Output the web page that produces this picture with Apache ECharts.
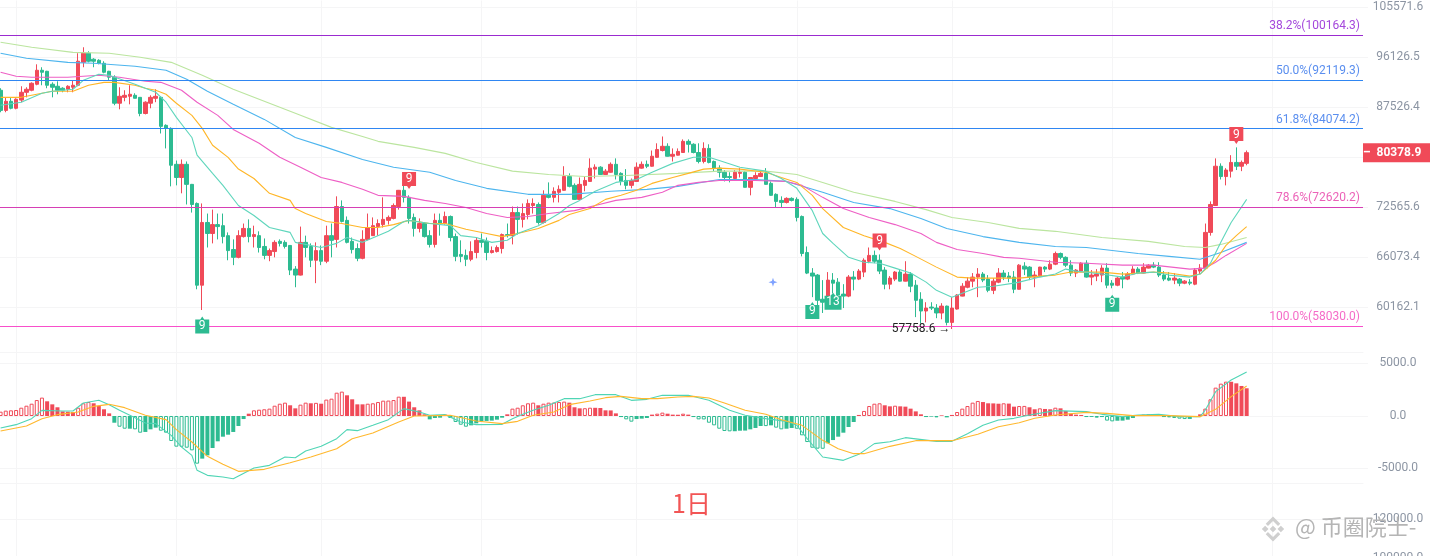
<!DOCTYPE html>
<html><head><meta charset="utf-8"><style>html,body{margin:0;padding:0;background:#fff}#c{width:1430px;height:556px}</style>
<script src="https://cdn.jsdelivr.net/npm/echarts@6/dist/echarts.min.js"></script></head><body><div id="c"></div><script>
const opens=[90350,87000,88500,87350,88700,90000,90350,91370,93800,93620,
91370,91030,90690,90520,90860,91200,95200,96840,95760,95570,
95030,93620,92580,88180,89160,89330,89500,89160,86500,88180,
89000,89160,84600,84120,78640,76720,78640,75740,73080,62700,
70520,69080,70240,70100,68800,67030,66060,68680,69740,68680,
68800,67420,66300,66780,68070,67940,67550,64620,63900,67940,
67420,65700,66900,65580,68800,68320,72660,70800,68070,67160,
65940,68320,68800,69980,70240,70800,71060,72660,74900,73920,
71190,69740,70380,68800,67680,70800,70380,71320,68680,66420,
66300,65820,66660,68200,68070,66660,66780,67160,68940,68800,
71840,70930,71580,72800,72940,70520,74200,73920,74620,74900,
76860,75600,73640,75600,76160,77940,78220,77160,77480,78640,
77320,76300,75600,76160,78080,78640,78360,79680,80700,81340,
79840,80000,80400,82100,81650,80400,79060,81020,79060,78080,
77480,76860,76580,77320,77480,75320,76580,76860,77320,75880,
74340,73500,73220,73780,73640,71320,66660,64140,63900,61070,
60730,63300,63060,61660,61430,63660,63420,64260,65580,66300,
65700,64500,62820,63420,64260,63180,64020,62700,61070,59740,
60180,60070,59520,60290,58480,59960,61430,62460,63180,63660,
64020,63420,62100,63060,64140,63780,63660,62220,64980,64860,
63660,63780,64860,64620,65220,66540,66060,65100,64140,64380,
65340,63660,63780,63900,64740,62940,62700,63660,63420,64020,
64620,64140,64740,65100,64860,63900,63540,63300,63420,62940,
63060,62820,64380,64740,69220,72800,78360,76860,77640,78920,
78360,78780];
const closes=[87000,88500,87350,88840,90010,90520,91540,93800,93450,91200,
90860,90350,90350,91030,91200,95400,96840,95400,95400,95030,
93450,92580,88180,89330,89500,89670,89000,86500,88350,89160,
89330,84440,84120,78500,76720,78640,75740,72940,62700,70520,
69080,70240,69980,68680,66900,66060,68800,69740,68680,68940,
67290,66300,66900,67940,67810,67420,64500,63900,67940,67290,
65700,66900,65580,68800,68200,72660,70660,67940,67030,65940,
68320,69860,70100,70380,70930,71190,72800,74900,73920,71060,
69740,70380,68680,67680,70800,70380,71320,68560,66180,66180,
65820,66780,68200,67940,66660,66900,67290,68940,68800,71840,
70930,71710,73080,73080,70520,74200,73920,74760,75040,76860,
75460,73640,75740,76300,78080,78220,77160,77640,78640,77160,
76160,75600,76300,78220,78640,78360,79840,80860,81340,79840,
80130,80560,82100,81650,80400,79060,81020,78920,78080,77480,
76720,76720,77480,77480,75320,76720,77000,77320,75740,74200,
73360,73220,73780,73500,71190,66540,64140,63780,60950,60730,
63300,62940,61550,61430,63660,63420,64380,65700,66300,65580,
64380,62820,63540,64260,63180,64020,62580,60950,59740,60070,
60070,59520,60290,58480,60070,61550,62580,63180,63660,64020,
63300,62100,63180,64140,63660,63540,62220,65100,64620,63660,
63900,64860,64620,65220,66540,66060,65100,64140,64500,65340,
63660,63900,64020,64740,62700,62700,63540,63420,64020,64620,
64140,64860,65100,64860,63900,63420,63300,63540,62940,63180,
62940,64500,64740,69220,72940,78360,76860,77800,78920,78360,
78920,80379];
const lows=[86700,86700,87180,87180,88350,89160,90180,91200,91200,90690,
89160,89670,90010,90010,90010,91030,94330,95200,94330,94850,
93270,92050,87850,87180,88500,88000,89000,86050,86350,87350,
88350,83320,81020,75460,75600,74480,72940,71840,62220,59850,
67290,67810,68320,67810,65700,65100,65940,68560,67940,67290,
66660,65820,65580,66060,67420,67160,63900,62460,63850,66060,
64860,62940,65100,65340,66060,67290,70520,67810,66540,65580,
65820,68200,68800,68800,69860,70240,70930,72240,73220,70380,
68680,69220,68560,67290,67290,68800,70240,68070,65580,65460,
64980,65580,65940,67290,65700,66540,66660,66540,68560,67680,
68940,69860,70930,71710,70240,70380,73780,73220,73220,74850,
75320,73600,73600,74760,76100,76580,77100,77100,77400,76440,
75600,75040,75180,76100,78000,78080,78300,79600,80560,79800,
79060,79950,80350,80400,80270,78780,78780,78780,77640,76720,
76160,76020,76300,76720,75300,74200,76300,76800,75700,74150,
72520,72520,73080,73360,70660,66180,64020,61310,60400,59520,
60180,61770,60400,60070,61310,62100,63300,63660,65340,65340,
64020,62220,62220,63180,63150,63150,61880,59060,58370,58480,
59850,58940,58820,58150,57759,59900,61400,62340,62460,61310,
63060,61880,61660,62940,63300,63060,61770,62200,63900,63300,
62460,63660,64260,64500,65100,65820,64860,63780,63660,64260,
63600,62700,63180,63060,62340,62340,62580,62340,63300,63900,
64020,64100,64700,64740,63660,63180,63180,62820,62580,62820,
62700,62700,64020,64620,68800,72750,76440,75600,76720,77800,
77640,78500];
const highs=[90690,89160,89160,89000,91030,90860,91700,94850,94330,93700,
91700,91880,90860,91200,92050,96840,97930,97200,95940,95760,
95400,93700,92920,90860,90350,91200,89840,89200,88500,89500,
90520,89330,84760,84280,79200,79360,79060,75800,73220,73080,
71710,72240,71710,71710,69220,68320,69500,70380,70930,70100,
69360,68440,67160,68200,68320,68200,67600,64980,69980,68800,
67810,67940,67550,70100,70380,74060,73500,71320,68560,67810,
69500,71710,71190,70930,73920,71450,73080,74950,75600,74200,
71710,71060,70520,69500,71710,71710,71970,71450,69080,68200,
67030,68070,68560,69080,68560,67420,67550,69080,70380,72660,
72660,73080,73640,73780,73220,74900,76020,75320,75600,78360,
77320,75880,76720,76860,79520,78640,78360,77940,78920,79520,
77480,77940,76580,78920,79060,79200,80700,81800,82850,81800,
81020,81020,82400,82400,81800,81800,81950,81650,79200,78500,
77800,77480,77800,78080,77640,76750,77480,77640,78080,76160,
74480,74060,73920,73920,73920,71450,67420,64740,64020,63300,
64260,64140,63540,62820,63900,64380,64620,65940,67290,66900,
66420,64860,63780,64380,64500,65580,64260,63300,61880,60730,
60730,60510,60620,60350,61310,61660,62940,63660,64140,64740,
64260,63900,63540,64740,64500,64260,64380,65220,65460,64980,
64380,64900,64980,65700,66780,66660,66180,65700,64620,65460,
65700,64500,64620,65100,65340,63300,63660,64260,64260,64980,
64860,65340,65220,65460,65460,64380,64260,64140,63540,63300,
63420,64740,65220,70380,73360,79520,78780,78080,80000,81180,
79200,80700];
const maTeal=[[0,87850],[4,88350],[8,89840],[10,90180],[14,90520],[16,92050],[19,93100],[21,92920],[26,91370],[30,90010],[32,88350],[34,85870],[37,82700],[38,80000],[41,77320],[43,75600],[46,72800],[49,71450],[52,69860],[56,69220],[57,67940],[62,67290],[65,67810],[67,68560],[70,67940],[75,69360],[78,70660],[79,70800],[83,70380],[87,70100],[89,68800],[92,68560],[95,67940],[98,68200],[100,69080],[104,70100],[108,71710],[110,72800],[112,73500],[115,74760],[119,76020],[123,76440],[126,77480],[130,78780],[134,79680],[137,79680],[139,79200],[143,78220],[148,77640],[151,76580],[154,75180],[157,72100],[159,69080],[161,67810],[164,66060],[167,65460],[170,65340],[173,64740],[176,64140],[179,63060],[181,62100],[184,61310],[186,61770],[189,62460],[192,62580],[196,62940],[197,63060],[201,63660],[204,64020],[206,64620],[208,64380],[213,64020],[217,63660],[220,64140],[223,64260],[226,63900],[230,63660],[232,64020],[234,65340],[236,67940],[238,70520],[241,73640]];
const maOrange=[[0,89160],[4,89160],[8,89840],[10,90180],[14,90180],[17,91200],[20,91700],[22,91700],[26,91200],[28,90690],[30,90350],[32,89670],[34,88180],[37,86200],[39,84120],[41,81500],[44,79680],[46,77940],[49,76580],[52,74480],[56,73500],[57,72380],[59,71710],[63,70660],[66,70380],[70,69860],[73,69860],[76,70240],[79,70800],[83,70380],[86,70380],[90,69620],[94,69080],[97,68680],[100,69080],[104,69740],[108,70800],[110,71580],[114,72380],[117,73640],[120,74200],[123,74900],[126,75880],[130,76720],[133,77320],[136,77940],[139,78080],[143,77940],[148,77480],[151,76720],[154,76020],[157,74200],[159,72380],[163,69860],[167,68800],[171,67940],[174,67160],[177,66180],[181,64860],[185,63660],[188,63540],[197,63540],[201,63780],[204,63900],[207,64260],[213,64260],[217,64020],[223,64260],[226,64140],[230,63780],[232,64020],[235,65700],[237,67550],[239,68800],[241,69980]];
const maPink=[[0,93450],[3,92750],[6,92580],[13,92580],[19,92920],[23,92580],[28,91880],[31,91700],[35,90350],[38,88350],[42,86200],[45,83960],[50,81800],[54,79680],[58,78220],[62,76720],[66,76020],[70,75040],[73,74200],[78,74060],[82,73500],[86,73080],[90,72520],[94,71710],[98,71190],[102,71320],[106,71710],[111,72100],[115,72800],[119,73500],[124,73920],[128,74620],[131,75600],[135,76020],[139,76300],[146,76300],[152,76160],[155,75600],[159,73920],[163,72380],[168,71190],[173,70240],[178,69080],[181,67940],[185,67030],[190,66540],[194,66060],[197,65940],[204,65460],[210,65340],[217,65100],[223,65100],[230,64620],[233,64740],[235,65460],[237,66300],[241,67810]];
const maBlue=[[0,96840],[5,95940],[13,95200],[18,95030],[26,94500],[32,93800],[36,92230],[40,90180],[45,88000],[51,85550],[57,82700],[63,81180],[70,79360],[76,78220],[83,77480],[88,76300],[94,75180],[102,74340],[110,74340],[118,74760],[125,75040],[131,75460],[139,76440],[146,76440],[152,76160],[159,74620],[165,73220],[172,72380],[178,71060],[183,69740],[190,68680],[197,67940],[204,67420],[210,67290],[220,66540],[226,66180],[232,65820],[236,66660],[241,67940]];
const maGreen=[[0,98860],[6,97930],[14,97000],[21,96840],[27,96120],[33,95200],[39,92920],[45,90520],[52,88180],[58,86200],[64,84280],[70,82850],[73,82100],[80,81180],[86,80270],[92,78920],[99,77640],[106,77160],[113,76860],[121,77000],[131,77320],[139,77640],[148,77640],[154,77160],[159,76020],[165,74620],[173,73360],[179,72240],[184,71190],[191,70520],[197,69740],[204,69360],[213,68560],[222,68070],[229,67420],[233,67290],[236,67680],[241,68560]];
const macdHist=[410,510,540,570,790,980,1170,1520,1750,1400,
1110,830,440,410,380,790,1210,1330,1210,950,
640,250,-640,-1020,-1210,-1210,-1270,-1590,-1520,-1270,
-1110,-1400,-1590,-2380,-2920,-2930,-3020,-3270,-4540,-4060,
-3750,-3050,-2410,-1970,-1780,-1520,-950,-290,220,540,
600,640,700,980,1170,1270,1020,730,1080,1270,
1210,1250,1170,1560,1650,2220,2320,1970,1590,1110,
1110,1170,1210,1330,1460,1470,1520,1840,1830,1370,
830,540,160,-320,-190,-160,130,-190,-570,-830,
-1020,-890,-700,-480,-470,-440,-350,-160,160,700,
790,1020,1210,1270,1020,1170,1270,1280,1330,1370,
1270,830,730,740,790,780,760,540,530,250,
-100,-320,-540,-290,-250,-190,130,220,320,220,
130,120,220,130,-100,-320,-330,-640,-890,-1210,
-1430,-1460,-1450,-1400,-1390,-1270,-1140,-950,-960,-890,
-1110,-1270,-1210,-1140,-1210,-1840,-2480,-3020,-3110,-3120,
-2600,-2290,-1970,-1590,-1050,-570,100,480,950,1170,
1210,1020,920,980,920,890,700,440,160,-100,
-60,-130,60,-130,100,380,700,950,1270,1430,
1330,1210,1200,1170,1210,1180,890,950,960,830,
640,730,670,640,790,730,480,220,130,100,
-100,-90,-160,-100,-440,-510,-450,-440,-350,-190,
30,130,160,130,120,-100,-130,-190,-250,-290,
-280,-100,160,700,1590,2700,3080,3270,3260,3110,
2860,2640];
const macdDif=[[0,-1143],[3,-825],[6,-254],[8,540],[12,476],[14,476],[16,1238],[19,1492],[21,1080],[23,540],[26,-159],[28,-667],[30,-730],[33,-1841],[35,-2953],[37,-3747],[38,-5175],[40,-5652],[43,-5810],[45,-5969],[49,-4953],[52,-4700],[55,-3905],[57,-3970],[59,-3334],[62,-2890],[65,-2160],[67,-1300],[69,-1397],[72,-889],[75,-349],[78,699],[81,381],[83,64],[86,127],[89,-571],[92,-825],[97,-794],[99,-254],[101,159],[103,540],[106,1016],[109,1651],[112,1651],[115,2032],[119,2032],[122,1492],[125,1587],[128,1968],[133,1968],[137,1492],[141,540],[144,64],[148,-254],[152,-508],[154,-889],[156,-2159],[159,-3905],[163,-4223],[166,-3651],[169,-2635],[172,-2445],[175,-2064],[181,-2413],[184,-2413],[187,-1683],[190,-889],[193,-381],[196,-222],[199,95],[204,508],[210,413],[213,159],[217,-64],[220,95],[224,159],[228,-64],[232,-64],[233,572],[235,2318],[238,3429],[241,4191]];
const macdDea=[[0,-1429],[5,-952],[8,-254],[11,127],[15,381],[18,920],[21,1111],[24,794],[28,64],[32,-349],[34,-1300],[37,-2476],[40,-3842],[43,-4604],[46,-5270],[51,-5080],[56,-4445],[60,-3905],[65,-3111],[68,-2159],[72,-1619],[77,-571],[80,0],[87,64],[92,-476],[97,-730],[100,-508],[103,64],[107,381],[110,1080],[114,1429],[117,1746],[120,1873],[124,1651],[127,1651],[131,1810],[134,1873],[137,1714],[140,1238],[144,540],[148,159],[151,-349],[155,-889],[159,-2318],[162,-3111],[165,-3588],[167,-3588],[172,-2890],[177,-2350],[184,-2350],[189,-1746],[193,-1016],[197,-635],[200,-222],[204,95],[210,349],[214,254],[219,32],[226,32],[232,-64],[235,635],[238,1842],[241,2858]];
const priceTicks=[105571.6,96126.5,87526.4,79695,72565.6,66073.4,60162.1];
const priceLabels=[105571.6,96126.5,87526.4,72565.6,66073.4,60162.1];
const macdTicks=[5000,0,-5000];
const lowerTicks=[120000,100000];
const monthStarts=[3,34,62,93,123,154,184,215,246];
const fibValues=[100164.3,92119.3,84074.2,72620.2,58030.0];
const fibNames=['38.2%','50.0%','61.8%','78.6%','100.0%'];
const fibLine=['#9B2BD0','#2F86F2','#2F86F2','#D63FB5','#F84FCB'];
const fibText=['#A447DC','#5B8FEF','#5B8FEF','#EC62B8','#F56CC8'];
const lastPrice=80378.9;
const lowPrice=57758.6;
const lowIndex=184;
const redTags=[[79,76300,'9'],[170,68000,'9'],[239,83000,'9']];
const greenTags=[[39,58200,'9'],[157,59800,'9'],[161,60840,'13'],[215,60620,'9']];
const RED='#F04A58',GREEN='#2DBB91',GRID='#F5F5F6',TXT='#8C95A3';
const slotCount=264;
const categories=Array.from({length:slotCount},(_,i)=>String(i));
const monthSet=new Set(monthStarts);
const xAx=(g,extra)=>Object.assign({type:'category',gridIndex:g,data:categories,boundaryGap:true,
 axisLabel:{show:false},axisTick:{show:false},axisLine:{show:false},
 splitLine:{show:true,alignWithLabel:true,interval:i=>monthSet.has(i),lineStyle:{color:GRID,width:1}}},extra||{});
const yAx=(g,min,max,ticks,labels,extra)=>Object.assign({gridIndex:g,position:'right',min,max,scale:true,
 axisLine:{show:false},axisTick:{show:true,length:5,lineStyle:{color:GRID},customValues:ticks},
 axisLabel:{show:true,customValues:labels,align:'center',margin:35,color:TXT,fontSize:12,fontFamily:'Roboto',hideOverlap:false,showMinLabel:true,showMaxLabel:true,formatter:v=>Number(v).toFixed(1)},
 splitLine:{show:true,lineStyle:{color:GRID,width:1}}},extra||{});
const maLine=(name,data,color)=>({name,type:'line',xAxisIndex:0,yAxisIndex:0,data,symbol:'none',silent:true,lineStyle:{color,width:1.1},z:3});
const fibData=fibValues.map((v,i)=>({yAxis:v,lineStyle:{color:fibLine[i],width:1,type:'solid'},
 label:{show:true,position:'insideEndTop',distance:3,color:fibText[i],fontSize:12,fontFamily:'Roboto',formatter:fibNames[i]+'('+v.toFixed(1)+')'}}));
const tagPts=(list,path,off)=>list.map(t=>({coord:[t[0],t[1]],symbol:path,symbolSize:[t[2].length>1?17:14,17],itemStyle:{color:off<0?RED:GREEN},
 label:{show:true,position:'inside',offset:[0,off],formatter:t[2],color:'#fff',fontSize:12,fontFamily:'Roboto'}}));
const RTAG='path://M0 0H14V14H9L7 17L5 14H0Z',GTAG='path://M0 3H5L7 0L9 3H14V17H0Z';
const iconParts=[[[50,38],[62,50],[50,62],[38,50]],[[22,38],[34,50],[22,62],[10,50]],[[78,38],[90,50],[78,62],[66,50]],[[50,5],[76,31],[68,39],[50,21],[32,39],[24,31]],[[50,95],[76,69],[68,61],[50,79],[32,61],[24,69]]];
const chart=echarts.init(document.getElementById('c'),null,{renderer:'canvas'});
chart.setOption({animation:false,backgroundColor:'#fff',
 grid:[{left:-2,width:1365,top:0.5,height:352,outerBoundsMode:'none'},{left:-2,width:1365,top:352,height:131,outerBoundsMode:'none'},{left:-2,width:1365,top:483,height:100,outerBoundsMode:'none'}],
 xAxis:[xAx(0),
  xAx(1,{position:'top',axisLine:{show:true,onZero:false,lineStyle:{color:GRID}}}),
  xAx(2,{position:'top',axisLine:{show:true,onZero:false,lineStyle:{color:GRID}}})],
 yAxis:[yAx(0,55270,106900,priceTicks,priceLabels,{type:'log',logBase:10}),
  yAx(1,-6381,6095,macdTicks,macdTicks,{type:'value'}),
  yAx(2,87180,138460,lowerTicks,lowerTicks,{type:'value'})],
 series:[
  {name:'K',type:'candlestick',xAxisIndex:0,yAxisIndex:0,barWidth:4,z:2,silent:true,
   data:opens.map((o,i)=>[o,closes[i],lows[i],highs[i]]),
   itemStyle:{color:RED,color0:GREEN,borderColor:RED,borderColor0:GREEN,borderWidth:1},
   markLine:{silent:true,symbol:'none',animation:false,z:4,data:fibData.concat([{yAxis:lastPrice,lineStyle:{width:1,color:'rgba(0,0,0,0)'},
     label:{show:true,position:'end',distance:0,formatter:'–  '+lastPrice.toFixed(1),color:'#fff',fontWeight:'bold',fontSize:12,fontFamily:'Roboto',backgroundColor:RED,width:67,height:19,lineHeight:19,align:'left',padding:0}}])},
   markPoint:{silent:true,animation:false,z:6,data:[...tagPts(redTags,RTAG,-1),...tagPts(greenTags,GTAG,1),
     {coord:[lowIndex,lowPrice],symbol:'circle',symbolSize:1,itemStyle:{color:'transparent'},label:{show:true,position:'left',distance:1,formatter:lowPrice.toFixed(1)+' →',color:'#222',fontSize:12,fontFamily:'Roboto'}},
     {coord:[149,63060],symbol:'path://M5 0L6.2 3.8L10 5L6.2 6.2L5 10L3.8 6.2L0 5L3.8 3.8Z',symbolSize:9,symbolOffset:[2,0],itemStyle:{color:'#7FA2FF'},label:{show:false}}]}},
  maLine('g',maGreen,'#BBE59F'),maLine('b',maBlue,'#4DB5EE'),maLine('p',maPink,'#EE5FC5'),maLine('o',maOrange,'#FFB627'),maLine('t',maTeal,'#5FD6BC'),
  {name:'hist',type:'bar',xAxisIndex:1,yAxisIndex:1,barWidth:4,silent:true,z:2,
   data:macdHist.map((v,i)=>{const p=i?macdHist[i-1]:0,c=v>=0?RED:GREEN,hollow=(v>=0)===(p>=0)&&Math.abs(v)>Math.abs(p);
    return {value:v,itemStyle:hollow?{color:'#fff',borderColor:c,borderWidth:1}:{color:c,borderWidth:0}};})},
  {name:'dif',type:'line',xAxisIndex:1,yAxisIndex:1,data:macdDif,symbol:'none',silent:true,lineStyle:{color:'#4FD5B5',width:1.1},z:3},
  {name:'dea',type:'line',xAxisIndex:1,yAxisIndex:1,data:macdDea,symbol:'none',silent:true,lineStyle:{color:'#FFB82E',width:1.1},z:4},
  {name:'lower',type:'line',xAxisIndex:2,yAxisIndex:2,data:[],symbol:'none',silent:true}
 ],
 graphic:[
  {type:'text',z:50,left:672,top:491,style:{text:'1日',fill:'#F25555',font:'25px "Noto Sans CJK SC"'}},
  {type:'group',z:50,x:1259,y:515,scaleX:0.28,scaleY:0.28,children:iconParts.map(p=>({type:'polygon',z:50,shape:{points:p},style:{fill:'#CFCFCF'}}))},
  {type:'text',z:50,left:1295,top:516,style:{text:'@ 币圈院士-',fill:'#B5B5B5',font:'22px "Noto Sans CJK SC"'}}
 ]
});
</script></body></html>
